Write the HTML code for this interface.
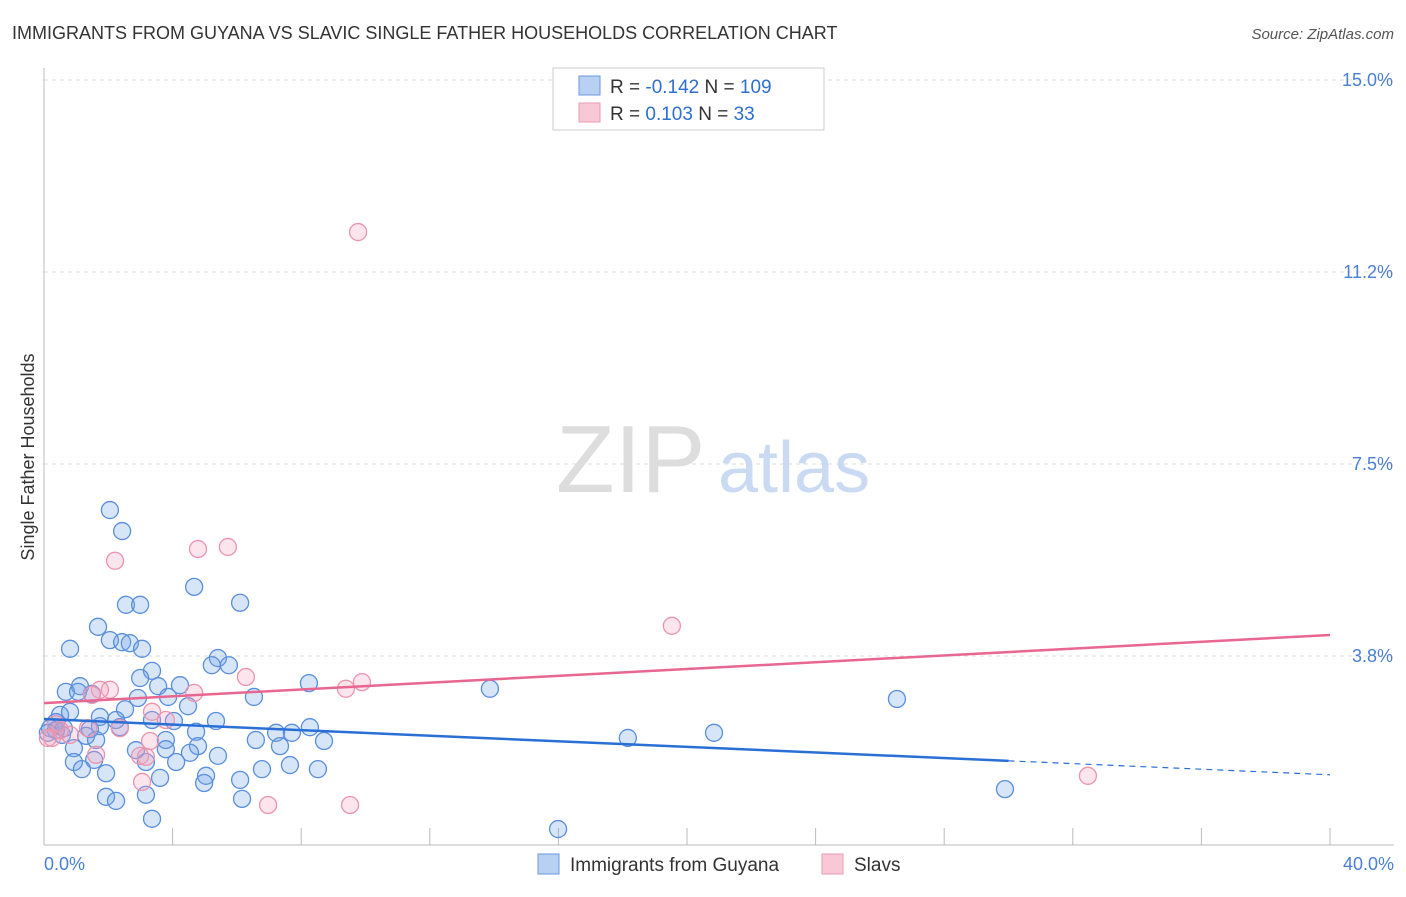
<!DOCTYPE html>
<html><head><meta charset="utf-8"><style>
body{margin:0;background:#fff;font-family:"Liberation Sans",sans-serif}
svg text{font-family:"Liberation Sans",sans-serif}
</style></head><body>
<svg width="1406" height="892" viewBox="0 0 1406 892" xmlns="http://www.w3.org/2000/svg">
<text x="12" y="39" font-size="18" fill="#333">IMMIGRANTS FROM GUYANA VS SLAVIC SINGLE FATHER HOUSEHOLDS CORRELATION CHART</text>
<text x="1394" y="39" font-size="15" fill="#555" font-style="italic" text-anchor="end">Source: ZipAtlas.com</text>
<text transform="translate(34,457) rotate(-90)" font-size="18" fill="#333" text-anchor="middle">Single Father Households</text>
<g id="grid"></g>
<g id="ylabels"></g>
<text x="556" y="492" font-size="96" fill="#ddd" font-family="Liberation Serif">ZIP</text>
<text x="718" y="492" font-size="72" fill="#c9daf2">atlas</text>
<line x1="44" y1="68" x2="44" y2="845" stroke="#bbb"/>
<line x1="44" y1="845" x2="1394" y2="845" stroke="#bbb"/>
<g id="xticks"></g>
<text x="44" y="870" font-size="18" fill="#4a7fd4">0.0%</text>
<text x="1394" y="870" font-size="18" fill="#4a7fd4" text-anchor="end">40.0%</text>
<g id="pts"></g>
<g id="trends"></g>
<g>
<rect x="553" y="68" width="271" height="62" fill="#fff" stroke="#ccc"/>
<rect x="579" y="76" width="21" height="19" fill="#b8d0f2" stroke="#6a9ae0"/>
<rect x="579" y="103" width="21" height="19" fill="#f9c8d6" stroke="#ec9ab2"/>
<text x="610" y="93" font-size="19" fill="#333">R = <tspan fill="#2f6fd0">-0.142</tspan>   N = <tspan fill="#2f6fd0">109</tspan></text>
<text x="610" y="120" font-size="19" fill="#333">R =   <tspan fill="#2f6fd0">0.103</tspan>   N =   <tspan fill="#2f6fd0">33</tspan></text>
</g>
<g>
<rect x="538" y="854" width="21" height="20" fill="#b8d0f2" stroke="#6a9ae0"/>
<text x="570" y="871" font-size="19" fill="#333">Immigrants from Guyana</text>
<rect x="822" y="854" width="21" height="20" fill="#f9c8d6" stroke="#ec9ab2"/>
<text x="854" y="871" font-size="19" fill="#333">Slavs</text>
</g>
</svg>
<script>
const yTicks=[3.75,7.5,11.25,15];
const yTickLabels=["3.8%","7.5%","11.2%","15.0%"];
const xTicks=[4,8,12,16,20,24,28,32,36,40];
const blueX=[2.05,2.43,2.55,2.99,4.67,6.10,1.68,2.05,2.43,2.67,3.05,0.81,5.41,5.22,5.75,3.36,2.99,1.12,0.68,1.06,1.49,3.55,4.23,2.92,3.86,6.53,8.24,13.87,26.53,4.48,2.52,0.50,0.81,1.74,2.24,3.36,4.04,5.35,8.27,4.73,7.22,7.71,6.59,7.34,8.71,18.16,20.84,3.79,4.79,1.43,1.74,0.37,0.19,0.56,0.93,2.86,3.79,4.54,5.41,3.17,4.11,0.93,1.56,1.18,1.93,3.61,5.04,6.10,6.78,7.65,8.52,4.98,1.93,2.24,3.17,6.16,3.36,15.99,29.89,1.31,1.62,2.36,0.37,0.12,0.62];
const blueY=[6.60,6.19,4.75,4.75,5.10,4.79,4.32,4.06,4.02,4.00,3.89,3.89,3.71,3.57,3.57,3.46,3.32,3.16,3.05,3.05,3.01,3.16,3.18,2.93,2.95,2.95,3.22,3.11,2.91,2.77,2.71,2.60,2.66,2.56,2.50,2.50,2.48,2.48,2.36,2.27,2.25,2.25,2.11,1.99,2.09,2.15,2.25,2.11,1.99,2.32,2.38,2.46,2.34,2.21,1.95,1.91,1.93,1.86,1.80,1.68,1.68,1.68,1.72,1.54,1.46,1.37,1.41,1.33,1.54,1.62,1.54,1.27,1.00,0.92,1.04,0.96,0.57,0.37,1.15,2.19,2.11,2.36,2.30,2.25,2.34];
const pinkX=[9.77,4.79,5.72,2.21,19.53,6.28,9.89,9.39,4.67,2.05,1.74,1.49,3.36,3.79,2.36,0.50,0.25,0.81,1.37,3.30,2.99,3.17,1.62,3.05,6.97,9.52,32.47,0.12,0.37];
const pinkY=[12.03,5.84,5.88,5.61,4.34,3.34,3.24,3.11,3.03,3.09,3.09,2.99,2.66,2.50,2.34,2.30,2.15,2.21,2.34,2.09,1.80,1.78,1.82,1.29,0.84,0.84,1.41,2.15,2.42];
const blueTrend=[2.52,1.43];
const pinkTrend=[2.83,4.16];
const blueSolidEnd=30;
const NS="http://www.w3.org/2000/svg";
const sx=v=>44+v*(1286/40);
const sy=v=>848-v*51.2;
function mk(tag,attrs,parent){const e=document.createElementNS(NS,tag);for(const k in attrs)e.setAttribute(k,attrs[k]);parent.appendChild(e);return e;}
const grid=document.getElementById('grid'),yl=document.getElementById('ylabels');
yTicks.forEach((t,i)=>{
 const l=mk('line',{x1:44,x2:1394,y1:sy(t),y2:sy(t),stroke:'#ddd','stroke-dasharray':'4,4'},grid);
 
 
 const tx=mk('text',{x:1393,y:sy(t)+6,'font-size':18,fill:'#4a7fd4','text-anchor':'end'},yl);
 tx.textContent=yTickLabels[i];
 
 
});
const xt=document.getElementById('xticks');
xTicks.forEach(t=>{
 const l=mk('line',{x1:sx(t),x2:sx(t),y1:828,y2:845,stroke:'#bbb'},xt);
 
 
});
const pts=document.getElementById('pts');
blueX.forEach((x,i)=>{
 const c=mk('circle',{cx:sx(x),cy:sy(blueY[i]),r:8.5,fill:'rgba(110,160,230,0.28)',stroke:'#5a8fdc','stroke-width':1.3},pts);
 
 
});
pinkX.forEach((x,i)=>{
 const c=mk('circle',{cx:sx(x),cy:sy(pinkY[i]),r:8.5,fill:'rgba(245,160,190,0.28)',stroke:'#ec94ae','stroke-width':1.3},pts);
 
 
});
const tr=document.getElementById('trends');
const bAt=x=>blueTrend[0]+(blueTrend[1]-blueTrend[0])*x/40;
const b1=mk('line',{x1:sx(0),y1:sy(bAt(0)),x2:sx(blueSolidEnd),y2:sy(bAt(blueSolidEnd)),stroke:'#2a6fd6','stroke-width':2.5},tr);


const b2=mk('line',{x1:sx(blueSolidEnd),y1:sy(bAt(blueSolidEnd)),x2:sx(40),y2:sy(bAt(40)),stroke:'#2a6fd6','stroke-width':1.2,'stroke-dasharray':'6,5'},tr);


const p1=mk('line',{x1:sx(0),y1:sy(pinkTrend[0]),x2:sx(40),y2:sy(pinkTrend[1]),stroke:'#e8668f','stroke-width':2.5},tr);


</script>
</body></html>
